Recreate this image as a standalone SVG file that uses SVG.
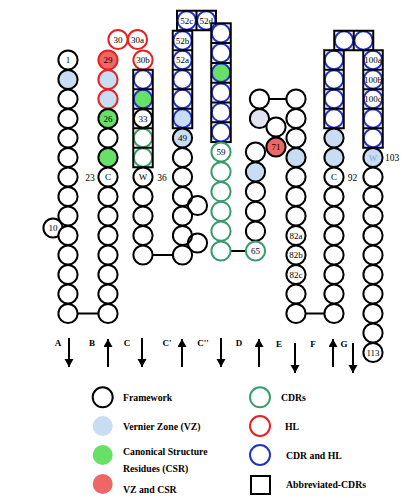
<svg xmlns="http://www.w3.org/2000/svg" width="417" height="498" viewBox="0 0 417 498">
<defs>
<style>
circle{stroke-width:2;fill:#fff;stroke:#000}
.vz{fill:#c8ddf3}
.csr{fill:#66e066}
.red{fill:#ee6666}
.lav{fill:#e2e2f5}
.hl{stroke:#e52222}
.cdr{stroke:#3a9c6c}
.ch{stroke:#2233c4}
.box{fill:none;stroke:#000;stroke-width:2}
.n{font-family:"Liberation Serif",serif;font-size:9px;text-anchor:middle;fill:#000}
.o{font-family:"Liberation Serif",serif;font-size:9.5px;fill:#000}
.lg{font-family:"Liberation Serif",serif;font-size:9.75px;font-weight:bold;fill:#000}
.sl{font-family:"Liberation Serif",serif;font-size:9px;font-weight:bold;fill:#000}
.cn{stroke:#000;stroke-width:2;fill:none}
</style>
<marker id="ah" markerUnits="userSpaceOnUse" markerWidth="10" markerHeight="10" refX="8" refY="4.5" orient="auto">
<path d="M0,0 L8,4.5 L0,9 z" fill="#000"/>
</marker>
</defs>
<rect width="417" height="498" fill="#fff"/>

<g id="connectors">
<line class="cn" x1="77.6" y1="313.5" x2="98.4" y2="313.5"/>
<line class="cn" x1="152.6" y1="255" x2="172.9" y2="255"/>
<line class="cn" x1="230.6" y1="251" x2="245.9" y2="251"/>
<line class="cn" x1="269.1" y1="99" x2="286.4" y2="99"/>
<line class="cn" x1="305.6" y1="313.5" x2="324.4" y2="313.5"/>
</g>

<g id="strand-A">
<g id="res-10"><circle cx="53" cy="228" r="9.6"/><text class="n" x="53" y="231">10</text></g>
<g id="res-1"><circle cx="68" cy="60" r="9.6"/><text class="n" x="68" y="63">1</text></g>
<circle class="vz" cx="68" cy="79.5" r="9.6"/>
<circle cx="68" cy="99" r="9.6"/>
<circle cx="68" cy="118.5" r="9.6"/>
<circle cx="68" cy="138" r="9.6"/>
<circle cx="68" cy="157.5" r="9.6"/>
<circle cx="68" cy="177" r="9.6"/>
<circle cx="68" cy="196.5" r="9.6"/>
<circle cx="68" cy="216" r="9.6"/>
<circle cx="68" cy="235.5" r="9.6"/>
<circle cx="68" cy="255" r="9.6"/>
<circle cx="68" cy="274.5" r="9.6"/>
<circle cx="68" cy="294" r="9.6"/>
<circle cx="68" cy="313.5" r="9.6"/>
<text class="o" x="90" y="180.5" text-anchor="middle">23</text>
</g>

<g id="strand-B">
<g id="res-30"><circle class="hl" cx="118" cy="39.5" r="9.6"/><text class="n" x="118" y="42.5">30</text></g>
<g id="res-30a"><circle class="hl" cx="137.5" cy="39.5" r="9.6"/><text class="n" x="137.5" y="42.5">30a</text></g>
<g id="res-29"><circle class="red hl" cx="108" cy="60" r="9.6"/><text class="n" x="108" y="63">29</text></g>
<circle class="vz hl" cx="108" cy="79.5" r="9.6"/>
<circle class="vz hl" cx="108" cy="99" r="9.6"/>
<g id="res-26"><circle class="csr" cx="108" cy="118.5" r="9.6"/><text class="n" x="108" y="121.5">26</text></g>
<circle cx="108" cy="138" r="9.6"/>
<circle class="csr" cx="108" cy="157.5" r="9.6"/>
<g id="res-C22"><circle cx="108" cy="177" r="9.6"/><text class="n" x="108" y="180">C</text></g>
<circle cx="108" cy="196.5" r="9.6"/>
<circle cx="108" cy="216" r="9.6"/>
<circle cx="108" cy="235.5" r="9.6"/>
<circle cx="108" cy="255" r="9.6"/>
<circle cx="108" cy="274.5" r="9.6"/>
<circle cx="108" cy="294" r="9.6"/>
<circle cx="108" cy="313.5" r="9.6"/>
</g>

<g id="strand-C">
<g id="res-30b"><circle class="hl" cx="143" cy="60" r="9.6"/><text class="n" x="143" y="63">30b</text></g>
<circle class="ch" cx="143" cy="79.5" r="9.2"/>
<circle class="ch csr" cx="143" cy="99" r="9.2"/>
<g id="res-33"><circle cx="143" cy="118.5" r="9.2"/><text class="n" x="143" y="121.5">33</text></g>
<circle class="cdr" cx="143" cy="138" r="9.2"/>
<circle class="cdr" cx="143" cy="157.5" r="9.2"/>
<rect class="box" x="133.25" y="69.75" width="19.5" height="97.5"/>
<path class="box" d="M133.25,89.25H152.75M133.25,108.75H152.75M133.25,128.25H152.75M133.25,147.75H152.75"/>
<g id="res-W36"><circle cx="143" cy="177" r="9.6"/><text class="n" x="143" y="180">W</text></g>
<circle cx="143" cy="196.5" r="9.6"/>
<circle cx="143" cy="216" r="9.6"/>
<circle cx="143" cy="235.5" r="9.6"/>
<circle cx="143" cy="255" r="9.6"/>
<text class="o" x="162" y="180.5" text-anchor="middle">36</text>
</g>

<g id="strand-Cp">
<g id="res-52c"><circle class="ch" cx="186.75" cy="20.5" r="9.2"/><text class="n" x="186.75" y="23.5">52c</text></g>
<g id="res-52d"><circle class="ch" cx="206.25" cy="20.5" r="9.2"/><text class="n" x="206.25" y="23.5">52d</text></g>
<rect class="box" x="177" y="10.75" width="39" height="19.5"/>
<line class="box" x1="196.5" y1="10.75" x2="196.5" y2="30.25"/>
<g id="res-52b"><circle class="ch" cx="182.5" cy="40.5" r="9.2"/><text class="n" x="182.5" y="43.5">52b</text></g>
<g id="res-52a"><circle class="ch" cx="182.5" cy="60" r="9.2"/><text class="n" x="182.5" y="63">52a</text></g>
<circle class="ch" cx="182.5" cy="79.5" r="9.2"/>
<circle class="ch" cx="182.5" cy="99" r="9.2"/>
<circle class="ch vz" cx="182.5" cy="118.5" r="9.2"/>
<rect class="box" x="172.75" y="30.75" width="19.5" height="97.5"/>
<path class="box" d="M172.75,50.25H192.25M172.75,69.75H192.25M172.75,89.25H192.25M172.75,108.75H192.25"/>
<g id="res-49"><circle class="vz" cx="182.5" cy="138" r="9.6"/><text class="n" x="182.5" y="141">49</text></g>
<circle cx="182.5" cy="157.5" r="9.6"/>
<circle cx="182.5" cy="177" r="9.6"/>
<circle cx="182.5" cy="196.5" r="9.6"/>
<circle cx="182.5" cy="216" r="9.6"/>
<circle cx="182.5" cy="235.5" r="9.6"/>
<circle cx="182.5" cy="255" r="9.6"/>
<circle cx="197.5" cy="205.5" r="9.6" style="fill:none"/>
<circle cx="197.5" cy="243" r="9.6" style="fill:none"/>
</g>

<g id="strand-Cpp">
<circle class="ch" cx="221" cy="33.2" r="9.2"/>
<circle class="ch" cx="221" cy="53" r="9.2"/>
<circle class="ch csr" cx="221" cy="72.8" r="9.2"/>
<circle class="ch" cx="221" cy="92.6" r="9.2"/>
<circle class="ch" cx="221" cy="112.4" r="9.2"/>
<circle class="ch" cx="221" cy="132.2" r="9.2"/>
<rect class="box" x="211.25" y="23.3" width="19.5" height="118.8"/>
<path class="box" d="M211.25,43.1H230.75M211.25,62.9H230.75M211.25,82.7H230.75M211.25,102.5H230.75M211.25,122.3H230.75"/>
<g id="res-59"><circle class="cdr" cx="221" cy="152" r="9.6"/><text class="n" x="221" y="155">59</text></g>
<circle class="cdr" cx="221" cy="171.8" r="9.6"/>
<circle class="cdr" cx="221" cy="191.6" r="9.6"/>
<circle class="cdr" cx="221" cy="211.4" r="9.6"/>
<circle class="cdr" cx="221" cy="231.2" r="9.6"/>
<circle class="cdr" cx="221" cy="251" r="9.6"/>
</g>

<g id="strand-D">
<circle cx="259.5" cy="99" r="9.6"/>
<circle class="lav" cx="259.5" cy="118.5" r="9.6"/>
<circle cx="255.5" cy="152" r="9.6"/>
<circle class="vz" cx="255.5" cy="171.8" r="9.6"/>
<circle cx="255.5" cy="191.6" r="9.6"/>
<circle cx="255.5" cy="211.4" r="9.6"/>
<circle cx="255.5" cy="231.2" r="9.6"/>
<g id="res-65"><circle class="cdr" cx="255.5" cy="251" r="9.6"/><text class="n" x="255.5" y="254">65</text></g>
<circle cx="276" cy="127" r="9.6"/>
<g id="res-71"><circle class="red" cx="276" cy="147" r="9.6"/><text class="n" x="276" y="150">71</text></g>
</g>

<g id="strand-E">
<circle cx="296" cy="99" r="9.6"/>
<circle cx="296" cy="118.5" r="9.6"/>
<circle cx="296" cy="138" r="9.6"/>
<circle class="vz" cx="296" cy="157.5" r="9.6"/>
<circle cx="296" cy="177" r="9.6"/>
<circle cx="296" cy="196.5" r="9.6"/>
<circle cx="296" cy="216" r="9.6"/>
<g id="res-82a"><circle cx="296" cy="235.5" r="9.6"/><text class="n" x="296" y="238.5">82a</text></g>
<g id="res-82b"><circle cx="296" cy="255" r="9.6"/><text class="n" x="296" y="258">82b</text></g>
<g id="res-82c"><circle cx="296" cy="274.5" r="9.6"/><text class="n" x="296" y="277.5">82c</text></g>
<circle cx="296" cy="294" r="9.6"/>
<circle cx="296" cy="313.5" r="9.6"/>
</g>

<g id="strand-F">
<circle class="ch" cx="334" cy="60" r="9.2"/>
<circle class="ch" cx="334" cy="79.5" r="9.2"/>
<circle class="ch" cx="334" cy="99" r="9.2"/>
<circle class="ch" cx="334" cy="118.5" r="9.2"/>
<rect class="box" x="324.25" y="50.25" width="19.5" height="78"/>
<path class="box" d="M324.25,69.75H343.75M324.25,89.25H343.75M324.25,108.75H343.75"/>
<circle class="vz" cx="334" cy="138" r="9.6"/>
<circle class="vz" cx="334" cy="157.5" r="9.6"/>
<g id="res-C92"><circle cx="334" cy="177" r="9.6"/><text class="n" x="334" y="180">C</text></g>
<circle cx="334" cy="196.5" r="9.6"/>
<circle cx="334" cy="216" r="9.6"/>
<circle cx="334" cy="235.5" r="9.6"/>
<circle cx="334" cy="255" r="9.6"/>
<circle cx="334" cy="274.5" r="9.6"/>
<circle cx="334" cy="294" r="9.6"/>
<circle cx="334" cy="313.5" r="9.6"/>
<text class="o" x="352.5" y="180.5" text-anchor="middle">92</text>
<circle class="ch" cx="344" cy="40.5" r="9.2"/>
<circle class="ch" cx="363.5" cy="40.5" r="9.2"/>
<rect class="box" x="334.25" y="30.75" width="39" height="19.5"/>
<line class="box" x1="353.75" y1="30.75" x2="353.75" y2="50.25"/>
</g>

<g id="strand-G">
<g id="res-100a"><circle class="ch" cx="373" cy="60" r="9.2"/><text class="n" x="373" y="63">100a</text></g>
<g id="res-100b"><circle class="ch" cx="373" cy="79.5" r="9.2"/><text class="n" x="373" y="82.5">100b</text></g>
<g id="res-100c"><circle class="ch" cx="373" cy="99" r="9.2"/><text class="n" x="373" y="102">100c</text></g>
<circle class="ch" cx="373" cy="118.5" r="9.2"/>
<circle class="ch" cx="373" cy="138" r="9.2"/>
<rect class="box" x="363.25" y="50.25" width="19.5" height="97.5"/>
<path class="box" d="M363.25,69.75H382.75M363.25,89.25H382.75M363.25,108.75H382.75M363.25,128.25H382.75"/>
<g id="res-W103"><circle class="vz" cx="373" cy="157.5" r="9.6"/><text class="n" x="373" y="160.5" style="fill:#8aa0c8">W</text></g>
<text class="o" x="385" y="161">103</text>
<circle cx="373" cy="177" r="9.6"/>
<circle cx="373" cy="196.5" r="9.6"/>
<circle cx="373" cy="216" r="9.6"/>
<circle cx="373" cy="235.5" r="9.6"/>
<circle cx="373" cy="255" r="9.6"/>
<circle cx="373" cy="274.5" r="9.6"/>
<circle cx="373" cy="294" r="9.6"/>
<circle cx="373" cy="313.5" r="9.6"/>
<circle cx="373" cy="333" r="9.6"/>
<g id="res-113"><circle cx="373" cy="352.5" r="9.6"/><text class="n" x="373" y="355.5">113</text></g>
</g>

<g id="strand-arrows">
<text class="sl" x="58" y="346" text-anchor="middle">A</text>
<line class="cn" x1="69" y1="338" x2="69" y2="367" marker-end="url(#ah)"/>
<text class="sl" x="92" y="346" text-anchor="middle">B</text>
<line class="cn" x1="108" y1="367" x2="108" y2="339" marker-end="url(#ah)"/>
<text class="sl" x="127" y="346" text-anchor="middle">C</text>
<line class="cn" x1="142" y1="338" x2="142" y2="367" marker-end="url(#ah)"/>
<text class="sl" x="167" y="346" text-anchor="middle">C'</text>
<line class="cn" x1="182" y1="367" x2="182" y2="339" marker-end="url(#ah)"/>
<text class="sl" x="203" y="346" text-anchor="middle">C''</text>
<line class="cn" x1="221" y1="338" x2="221" y2="367" marker-end="url(#ah)"/>
<text class="sl" x="239" y="346" text-anchor="middle">D</text>
<line class="cn" x1="259" y1="367" x2="259" y2="339" marker-end="url(#ah)"/>
<text class="sl" x="279" y="347" text-anchor="middle">E</text>
<line class="cn" x1="295" y1="343" x2="295" y2="373" marker-end="url(#ah)"/>
<text class="sl" x="313" y="347" text-anchor="middle">F</text>
<line class="cn" x1="333" y1="367" x2="333" y2="339" marker-end="url(#ah)"/>
<text class="sl" x="344" y="347" text-anchor="middle">G</text>
<line class="cn" x1="353" y1="343" x2="353" y2="373" marker-end="url(#ah)"/>
</g>

<g id="legend">
<g id="lg-framework"><circle cx="102.7" cy="397.3" r="10"/><text class="lg" x="123" y="400.8">Framework</text></g>
<g id="lg-vz"><circle cx="102.7" cy="426" r="10" style="fill:#c8ddf3;stroke:none"/><text class="lg" x="123" y="429.5">Vernier Zone (VZ)</text></g>
<g id="lg-csr"><circle cx="102.7" cy="455" r="10" style="fill:#66e066;stroke:none"/><text class="lg" x="123" y="454.5">Canonical Structure</text><text class="lg" x="123" y="472.2">Residues (CSR)</text></g>
<g id="lg-vzcsr"><circle cx="102.7" cy="484" r="10" style="fill:#ee6666;stroke:none"/><text class="lg" x="123" y="492.5">VZ and CSR</text></g>
<g id="lg-cdr"><circle class="cdr" cx="260" cy="397.3" r="10"/><text class="lg" x="281" y="400.8">CDRs</text></g>
<g id="lg-hl"><circle class="hl" cx="260" cy="426" r="10"/><text class="lg" x="285" y="429.5">HL</text></g>
<g id="lg-cdrhl"><circle class="ch" cx="260" cy="455" r="10"/><text class="lg" x="286" y="458.5">CDR and HL</text></g>
<g id="lg-abbr"><rect class="box" x="251" y="476" width="19" height="18"/><text class="lg" x="286" y="487.8">Abbreviated-CDRs</text></g>
</g>
</svg>
